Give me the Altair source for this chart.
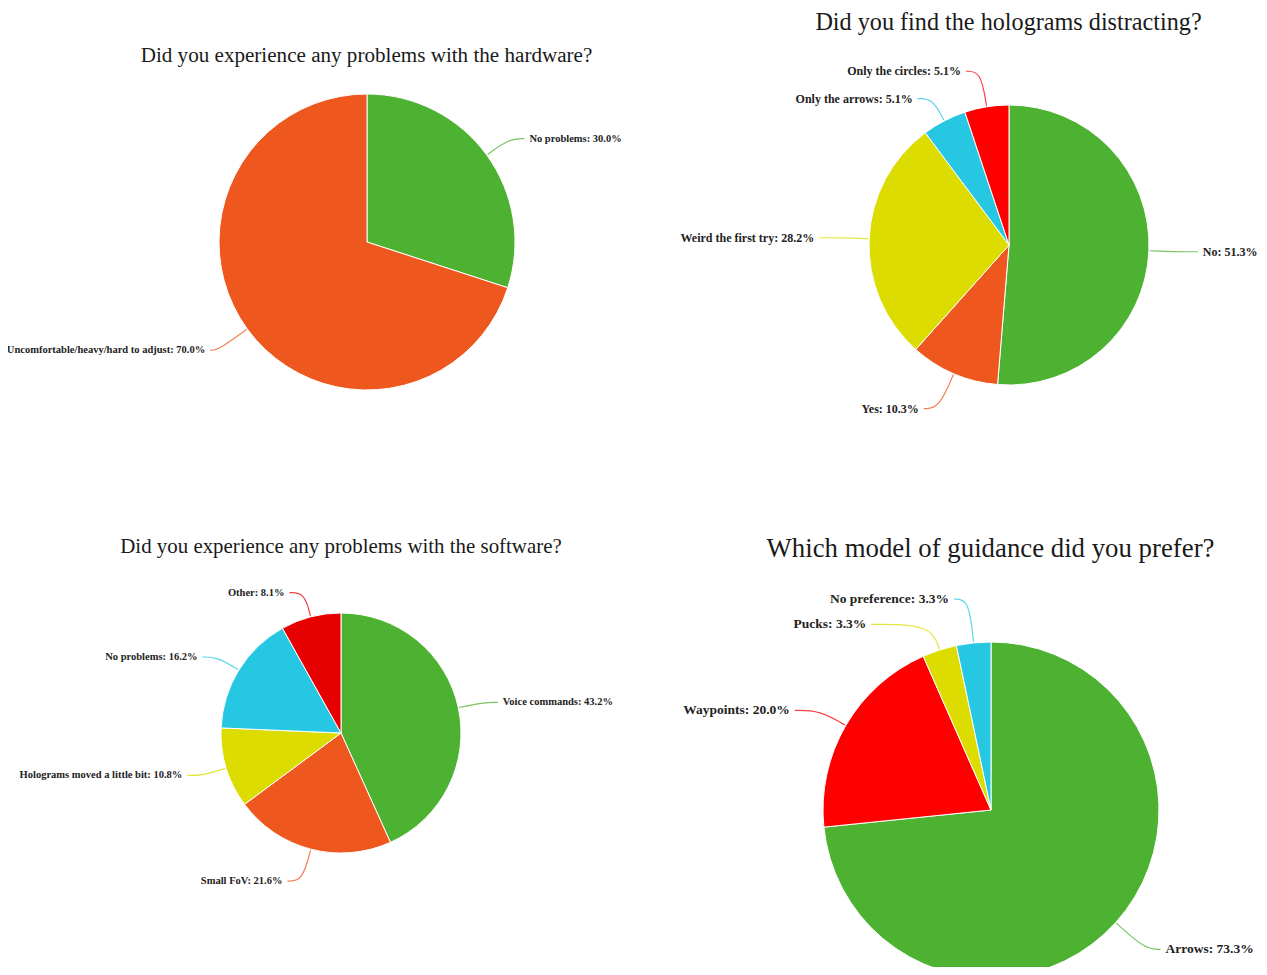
import math
import altair as alt
import pandas as pd

W, H = 1251, 959

# ---------------- data ----------------
TITLES = [
    "Did you experience any problems with the hardware?",
    "Did you find the holograms distracting?",
    "Did you experience any problems with the software?",
    "Which model of guidance did you prefer?",
]

HW_LABELS = ["No problems", "Uncomfortable/heavy/hard to adjust"]
HW_VALUES = [30.0, 70.0]

HOLO_LABELS = ["No", "Yes", "Weird the first try", "Only the arrows", "Only the circles"]
HOLO_VALUES = [51.3, 10.3, 28.2, 5.1, 5.1]

SW_LABELS = ["Voice commands", "Small FoV", "Holograms moved a little bit", "No problems", "Other"]
SW_VALUES = [43.2, 21.6, 10.8, 16.2, 8.1]

GD_LABELS = ["Arrows", "Waypoints", "Pucks", "No preference"]
GD_VALUES = [73.3, 20.0, 3.3, 3.3]

# ---------------- styles / layout ----------------
GREEN, ORANGE, YELLOW, CYAN, RED, DARKRED = (
    "#4db131", "#ee571d", "#dcdc00", "#25c7e3", "#ff0000", "#e60000")
HW_COLORS = [GREEN, ORANGE]
HOLO_COLORS = [GREEN, ORANGE, YELLOW, CYAN, RED]
SW_COLORS = [GREEN, ORANGE, YELLOW, CYAN, DARKRED]
GD_COLORS = [GREEN, RED, YELLOW, CYAN]

FONT = "Liberation Serif"

PIES = [
    dict(labels=HW_LABELS, values=HW_VALUES, colors=HW_COLORS, title=TITLES[0],
         cx=359, cy=234, r=148, tx=358.5, ty=47.5, ts=21.1, ls=10.5, h=28, h2=15,
         tweak={"Uncomfortable/heavy/hard to adjust": (36, 8)}),
    dict(labels=HOLO_LABELS, values=HOLO_VALUES, colors=HOLO_COLORS, title=TITLES[1],
         cx=1001, cy=237, r=140, tx=1000.5, ty=14.5, ts=24.2, ls=12, h=25, h2=15,
         tweak={"No": (25, 24), "Yes": (38, 15), "Weird the first try": (25, 25),
                "Only the circles": (36, 15)}),
    dict(labels=SW_LABELS, values=SW_VALUES, colors=SW_COLORS, title=TITLES[2],
         cx=333, cy=725, r=120, tx=333, ty=538.5, ts=20.9, ls=10.5, h=25, h2=15,
         tweak={"Small FoV": (33, 15)}),
    dict(labels=GD_LABELS, values=GD_VALUES, colors=GD_COLORS, title=TITLES[3],
         cx=983, cy=802, r=168, tx=982.5, ty=541, ts=26.8, ls=13.5, h=30, h2=15,
         tweak={"Arrows": (40, 15), "Waypoints": (30, 25),
                "Pucks": (27, 60), "No preference": (44, 15)}),
]

layers = []
for p in PIES:
    labels, values, colors = p["labels"], p["values"], p["colors"]
    cx, cy, r = p["cx"], p["cy"], p["r"]
    cscale = alt.Scale(domain=labels, range=colors)
    df = pd.DataFrame({"label": labels, "value": values, "i": list(range(len(labels)))})

    arc = alt.Chart(df).mark_arc(radius=r, stroke="white", strokeWidth=1).encode(
        theta=alt.Theta("value:Q", stack=True),
        order=alt.Order("i:Q", sort="ascending"),
        color=alt.Color("label:N", scale=cscale, legend=None),
        x=alt.value(cx),
        y=alt.value(cy),
    )
    layers.append(arc)

    total = sum(values)
    cum = 0.0
    line_rows, left_rows, right_rows = [], [], []
    for lab, v in zip(labels, values):
        a = (cum + v / 2.0) / total * 2 * math.pi
        cum += v
        ux, uy = math.sin(a), -math.cos(a)
        side = 1 if ux >= 0 else -1
        h, h2 = p["tweak"].get(lab, (p["h"], p["h2"]))
        p0 = (cx + (r + 1) * ux, cy + (r + 1) * uy)
        p1 = (cx + (r + h) * ux, cy + (r + h) * uy)
        e = (p1[0] + side * h2, p1[1])
        for k, pt in enumerate([p0, p1, e]):
            line_rows.append({"label": lab, "k": k, "x": pt[0], "y": pt[1]})
        row = {"text": f"{lab}: {v:.1f}%", "x": e[0] + side * 5, "y": e[1]}
        (right_rows if side > 0 else left_rows).append(row)

    lines = alt.Chart(pd.DataFrame(line_rows)).mark_line(
        interpolate="basis", strokeWidth=1.2, opacity=0.75).encode(
        x=alt.X("x:Q", scale=None, axis=None),
        y=alt.Y("y:Q", scale=None, axis=None),
        detail="label:N",
        order=alt.Order("k:Q"),
        color=alt.Color("label:N", scale=cscale, legend=None),
    )
    layers.append(lines)

    for rows, align in [(right_rows, "left"), (left_rows, "right")]:
        if not rows:
            continue
        t = alt.Chart(pd.DataFrame(rows)).mark_text(
            font=FONT, fontSize=p["ls"], fontWeight="bold", color="#222222",
            align=align, baseline="middle").encode(
            x=alt.X("x:Q", scale=None, axis=None),
            y=alt.Y("y:Q", scale=None, axis=None),
            text="text:N",
        )
        layers.append(t)

    title = alt.Chart(pd.DataFrame({"t": [p["title"]]})).mark_text(
        font=FONT, fontSize=p["ts"], color="#1a1a1a", align="center",
        baseline="middle").encode(
        text="t:N", x=alt.value(p["tx"]), y=alt.value(p["ty"]))
    layers.append(title)

chart = alt.layer(*layers).resolve_scale(
    theta="independent", color="independent"
).properties(
    width=W, height=H, padding=0,
    autosize=alt.AutoSizeParams(type="none"),
    background="white",
).configure_view(stroke=None)

chart.save("out.html", embed_options={"renderer": "svg", "actions": False})
